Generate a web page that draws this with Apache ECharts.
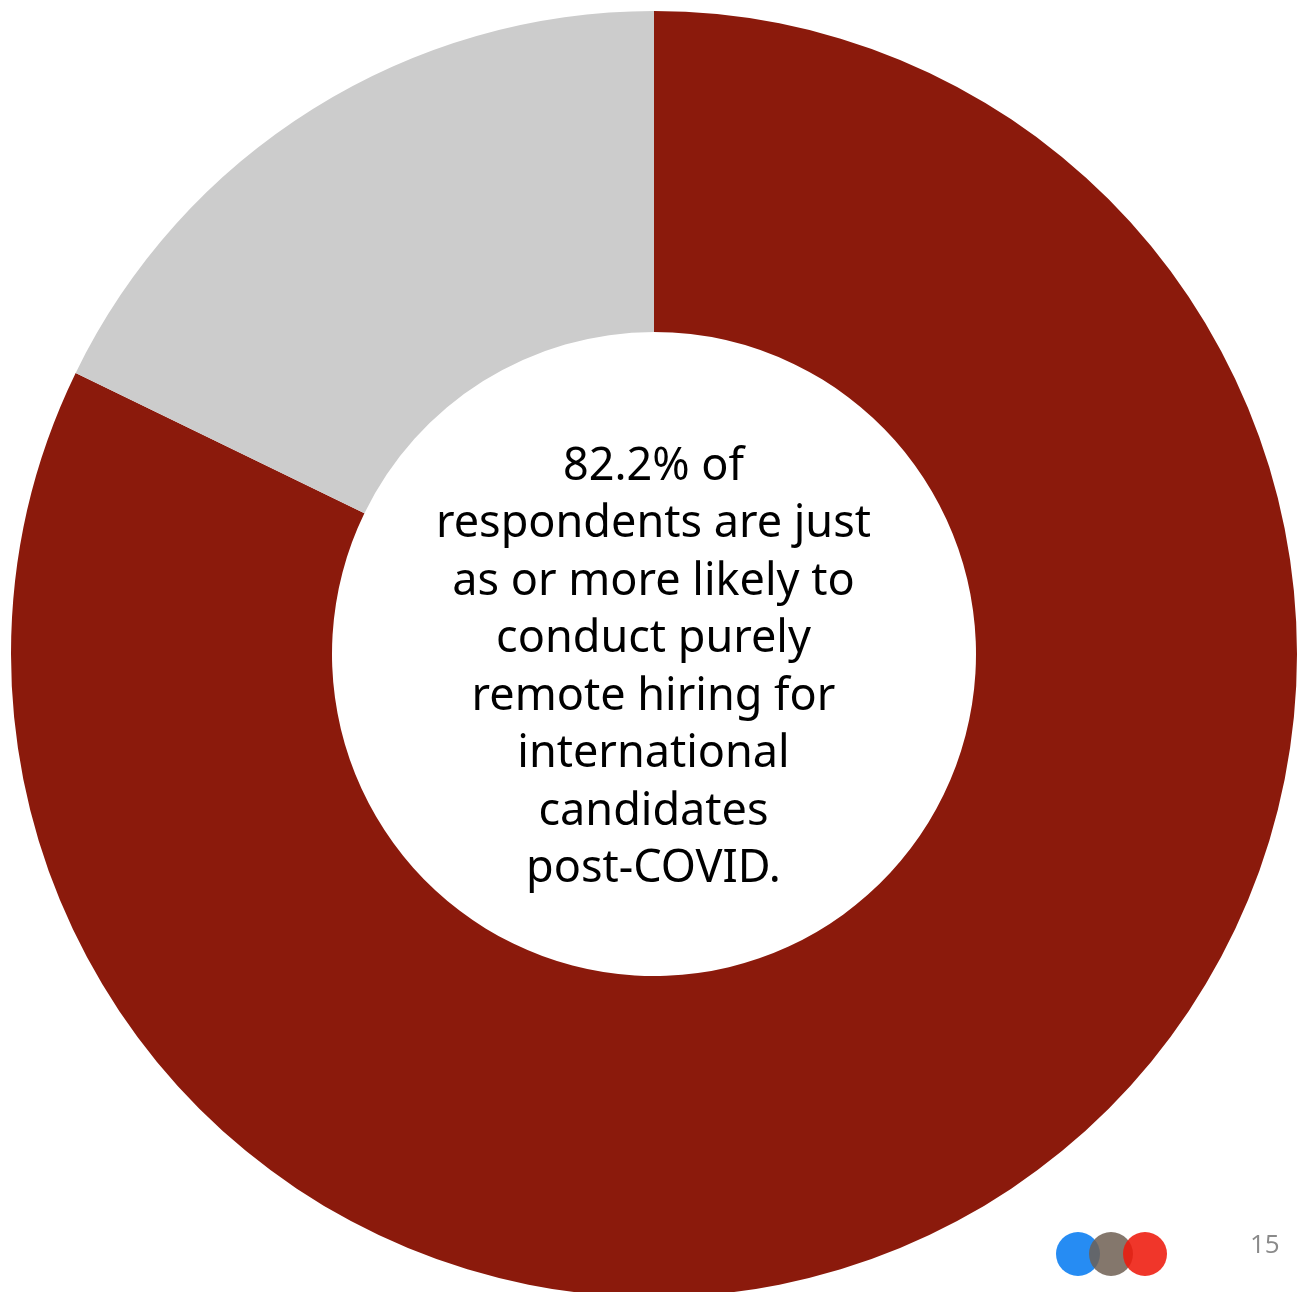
<!DOCTYPE html>
<html>
<head>
<meta charset="utf-8">
<script src="https://cdn.jsdelivr.net/npm/echarts@6/dist/echarts.min.js"></script>
<style>
  html, body { margin: 0; padding: 0; background: #ffffff; }
  #chart { width: 1307px; height: 1292px; }
</style>
</head>
<body>
<div id="chart"></div>
<script>
// Share of respondents by likelihood of purely remote international hiring post-COVID
const categories = ['Just as or more likely', 'Less likely'];
const shares = [82.2, 17.8];
const sliceColors = ['#8b1a0c', '#cccccc'];

const centerLines = [
  '82.2% of',
  'respondents are just',
  'as or more likely to',
  'conduct purely',
  'remote hiring for',
  'international',
  'candidates',
  'post-COVID.'
];
const pageNumber = '15';

const chart = echarts.init(document.getElementById('chart'));

const cx = 654, cy = 654;

chart.setOption({
  backgroundColor: '#ffffff',
  animation: false,
  series: [{
    type: 'pie',
    center: [cx, cy],
    radius: [322, 643],
    startAngle: 90,
    clockwise: true,
    label: { show: false },
    labelLine: { show: false },
    emphasis: { disabled: true },
    itemStyle: { borderWidth: 0 },
    data: categories.map((name, i) => ({
      name,
      value: shares[i],
      itemStyle: { color: sliceColors[i] }
    }))
  }],
  graphic: [
    {
      type: 'text',
      left: 'center',
      top: 438,
      style: {
        text: centerLines.join('\n'),
        fontFamily: '"Noto Sans", sans-serif',
        fontSize: 45,
        lineHeight: 57.5,
        fill: '#000000',
        textAlign: 'center'
      }
    },
    // three-dot logo
    { type: 'circle', shape: { cx: 1078, cy: 1254, r: 22 }, style: { fill: '#1a86f2', opacity: 0.95 } },
    { type: 'circle', shape: { cx: 1111, cy: 1254, r: 22 }, style: { fill: '#6f5f52', opacity: 0.85 } },
    { type: 'circle', shape: { cx: 1145, cy: 1254, r: 22 }, style: { fill: '#ee1a0c', opacity: 0.88 } },
    {
      type: 'text',
      left: 1250,
      top: 1233,
      style: {
        text: pageNumber,
        fontFamily: '"Open Sans", "Noto Sans", sans-serif',
        fontSize: 26,
        fill: '#8a8a8a'
      }
    }
  ]
});
</script>
</body>
</html>
